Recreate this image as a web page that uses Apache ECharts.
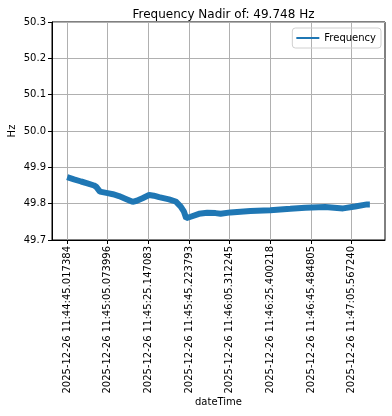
<!DOCTYPE html>
<html>
<head>
<meta charset="utf-8">
<script src="https://cdn.jsdelivr.net/npm/echarts@6/dist/echarts.min.js"></script>
<style>html,body{margin:0;padding:0;background:#fff}#c{width:392px;height:416px}</style>
</head>
<body>
<div id="c"></div>
<script>
// ---- data (seconds since 2025-12-26 11:44:45.017384, frequency in Hz) ----
var times = [0, 3.4, 6.9, 10.0, 13.3, 14.3, 16.2, 20.0, 22.6, 25.6, 29.0, 32.3, 34.4, 37.2, 40.5, 42.8, 45.4, 50.3, 53.6, 56.1, 57.7, 58.8, 59.5, 61.0, 65.1, 69.2, 73.3, 75.8, 80.7, 90.5, 100.3, 110.2, 117.6, 127.4, 136.3, 142.2, 148.1, 149.5];
var freq  = [49.873, 49.867, 49.861, 49.856, 49.850, 49.847, 49.833, 49.829, 49.826, 49.821, 49.813, 49.805, 49.808, 49.815, 49.824, 49.822, 49.818, 49.812, 49.806, 49.792, 49.778, 49.760, 49.756, 49.764, 49.772, 49.775, 49.774, 49.772, 49.776, 49.780, 49.782, 49.786, 49.789, 49.791, 49.787, 49.792, 49.798, 49.798];
var tickLabels = ['2025-12-26 11:44:45.017384', '2025-12-26 11:45:05.073996', '2025-12-26 11:45:25.147083', '2025-12-26 11:45:45.223793', '2025-12-26 11:46:05.312245', '2025-12-26 11:46:25.400218', '2025-12-26 11:46:45.484805', '2025-12-26 11:47:05.567240'];
var yTicks = [49.7, 49.8, 49.9, 50.0, 50.1, 50.2, 50.3];
var titleText = 'Frequency Nadir of: 49.748 Hz';
var seriesName = 'Frequency';

function toSec(s) {
  var t = s.split(' ')[1].split(':');
  return (+t[0]) * 3600 + (+t[1]) * 60 + parseFloat(t[2]);
}
var t0 = toSec(tickLabels[0]);
var tickPos = tickLabels.map(function (s) { return +(toSec(s) - t0).toFixed(6); });
var labelMap = {};
tickPos.forEach(function (p, i) { labelMap[p.toFixed(3)] = tickLabels[i]; });

var span = times[times.length - 1] - times[0];
var font = 'DejaVu Sans';

var chart = echarts.init(document.getElementById('c'), null, {renderer: 'canvas'});
chart.setOption({
  animation: false,
  backgroundColor: '#fff',
  title: {
    text: titleText, left: 218.5, top: 4, textAlign: 'center',
    textStyle: {fontFamily: font, fontSize: 12, fontWeight: 'normal', color: '#000'}
  },
  legend: {
    data: [{name: seriesName, icon: 'rect'}],
    right: 11, top: 28, itemWidth: 23, itemHeight: 2,
    padding: [5, 5, 5, 4], borderColor: '#d0d0d0', borderWidth: 1, borderRadius: 3,
    textStyle: {fontFamily: font, fontSize: 10, color: '#000'}
  },
  grid: {left: 52, right: 7, top: 22, bottom: 176, show: true, borderColor: '#000', borderWidth: 1,
    backgroundColor: 'transparent', containLabel: false, outerBoundsMode: 'none'},
  xAxis: {
    type: 'value', min: times[0] - 0.05 * span, max: times[times.length - 1] + 0.05 * span,
    name: 'dateTime', nameLocation: 'middle', nameGap: 157, nameMoveOverlap: false,
    nameTextStyle: {fontFamily: font, fontSize: 10, color: '#000'},
    axisLine: {show: true, onZero: false, lineStyle: {color: '#000', width: 1}},
    axisTick: {show: true, customValues: tickPos, length: 4, lineStyle: {color: '#000'}},
    splitLine: {show: true, lineStyle: {color: '#b0b0b0', width: 1}},
    axisLabel: {
      customValues: tickPos, rotate: 90, margin: 6,
      fontFamily: font, fontSize: 10, color: '#000',
      formatter: function (v) { return labelMap[(+v).toFixed(3)] || ''; }
    }
  },
  yAxis: {
    type: 'value', min: yTicks[0], max: yTicks[yTicks.length - 1], interval: 0.1,
    name: 'Hz', nameLocation: 'middle', nameGap: 35, nameRotate: 90, nameMoveOverlap: false,
    nameTextStyle: {fontFamily: font, fontSize: 10, color: '#000'},
    axisLine: {show: true, onZero: false, lineStyle: {color: '#000', width: 1}},
    axisTick: {show: true, length: 4, lineStyle: {color: '#000'}},
    splitLine: {show: true, lineStyle: {color: '#b0b0b0', width: 1}},
    axisLabel: {fontFamily: font, fontSize: 10, color: '#000', margin: 6,
      formatter: function (v) { return (+v).toFixed(1); }}
  },
  series: [{
    name: seriesName, type: 'line', showSymbol: false, symbol: 'none',
    data: times.map(function (t, i) { return [t, freq[i]]; }),
    lineStyle: {color: '#1f77b4', width: 6}, itemStyle: {color: '#1f77b4'}
  }]
});
</script>
</body>
</html>
